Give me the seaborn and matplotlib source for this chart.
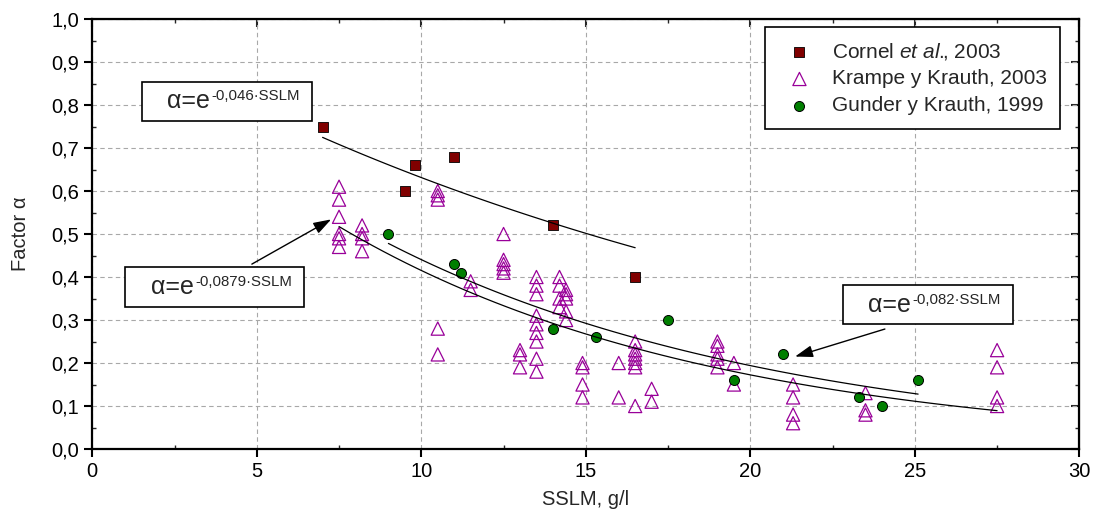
import numpy as np
import matplotlib
matplotlib.use('Agg')
import matplotlib.pyplot as plt
import seaborn as sns
from matplotlib.ticker import MultipleLocator
from matplotlib.offsetbox import TextArea, HPacker, DrawingArea, AnnotationBbox

# Cornel et al., 2003
cornel_x = [7.0, 9.5, 9.8, 11.0, 14.0, 16.5]
cornel_y = [0.75, 0.60, 0.66, 0.68, 0.52, 0.40]

# Krampe y Krauth, 2003
krampe_x = [7.5, 7.5, 7.5, 7.5, 7.5, 7.5,
            8.2, 8.2, 8.2, 8.2,
            10.5, 10.5, 10.5, 10.5, 10.5,
            11.5, 11.5,
            12.5, 12.5, 12.5, 12.5, 12.5,
            13.0, 13.0, 13.0,
            13.5, 13.5, 13.5, 13.5, 13.5, 13.5, 13.5, 13.5, 13.5,
            14.2, 14.2, 14.2, 14.2,
            14.4, 14.4, 14.4, 14.4, 14.4,
            14.9, 14.9, 14.9, 14.9,
            16.0, 16.0,
            16.5, 16.5, 16.5, 16.5, 16.5, 16.5, 16.5,
            17.0, 17.0,
            19.0, 19.0, 19.0, 19.0, 19.0,
            19.5, 19.5,
            21.3, 21.3, 21.3, 21.3,
            23.5, 23.5, 23.5,
            27.5, 27.5, 27.5, 27.5]
krampe_y = [0.61, 0.58, 0.54, 0.50, 0.49, 0.47,
            0.52, 0.50, 0.49, 0.46,
            0.60, 0.59, 0.58, 0.28, 0.22,
            0.39, 0.37,
            0.50, 0.44, 0.43, 0.42, 0.41,
            0.23, 0.22, 0.19,
            0.40, 0.38, 0.36, 0.31, 0.29, 0.27, 0.25, 0.21, 0.18,
            0.40, 0.38, 0.35, 0.33,
            0.37, 0.36, 0.35, 0.32, 0.30,
            0.20, 0.19, 0.15, 0.12,
            0.20, 0.12,
            0.25, 0.23, 0.22, 0.21, 0.20, 0.19, 0.10,
            0.14, 0.11,
            0.25, 0.24, 0.22, 0.21, 0.19,
            0.20, 0.15,
            0.15, 0.12, 0.08, 0.06,
            0.13, 0.09, 0.08,
            0.23, 0.19, 0.12, 0.10]

# Gunder y Krauth, 1999
gunder_x = [9.0, 11.0, 11.2, 14.0, 15.3, 17.5, 19.5, 21.0, 23.3, 24.0, 25.1]
gunder_y = [0.50, 0.43, 0.41, 0.28, 0.26, 0.30, 0.16, 0.22, 0.12, 0.10, 0.16]

# fitted curves alpha = exp(-k * SSLM), as printed on the chart
fit_k = [0.046, 0.0879, 0.082]
fit_from = [7.0, 7.5, 9.0]
fit_to = [16.5, 27.5, 25.1]
fit_text = ['-0,046·SSLM', '-0,0879·SSLM', '-0,082·SSLM']

x_ticks = [0, 5, 10, 15, 20, 25, 30]
y_ticks = [0.0, 0.1, 0.2, 0.3, 0.4, 0.5, 0.6, 0.7, 0.8, 0.9, 1.0]
y_tick_labels = ['0,0', '0,1', '0,2', '0,3', '0,4', '0,5', '0,6', '0,7', '0,8', '0,9', '1,0']

sns.set_style('ticks')
plt.rcParams['font.family'] = ['Liberation Sans', 'DejaVu Sans']
plt.rcParams['mathtext.fontset'] = 'custom'
plt.rcParams['mathtext.rm'] = 'Liberation Sans'
plt.rcParams['mathtext.it'] = 'Liberation Sans:italic'

fig, ax = plt.subplots(figsize=(10.96, 5.18), dpi=100)
fig.subplots_adjust(left=0.0842, right=0.9848, bottom=0.1332, top=0.9633)

sns.scatterplot(x=krampe_x, y=krampe_y, marker='^', s=90, facecolor='none',
                edgecolor='#990099', linewidth=0.9, label='Krampe y Krauth, 2003', ax=ax, zorder=3)
sns.scatterplot(x=cornel_x, y=cornel_y, marker='s', s=48, color='#800000',
                edgecolor='black', linewidth=0.6, label=r'Cornel $\mathit{et\ al.}\!\!$, 2003', ax=ax, zorder=4)
sns.scatterplot(x=gunder_x, y=gunder_y, marker='o', s=52, color='#007f00',
                edgecolor='black', linewidth=0.7, label='Gunder y Krauth, 1999', ax=ax, zorder=4)

for k, a, b in zip(fit_k, fit_from, fit_to):
    xs = np.linspace(a, b, 60)
    sns.lineplot(x=xs, y=np.exp(-k * xs), color='black', linewidth=0.9, ax=ax, zorder=5)

ax.set_xlim(0, 30)
ax.set_ylim(0, 1)
ax.set_xticks(x_ticks)
ax.set_xticklabels([str(t) for t in x_ticks])
ax.set_yticks(y_ticks)
ax.set_yticklabels(y_tick_labels)
ax.xaxis.set_minor_locator(MultipleLocator(2.5))
ax.yaxis.set_minor_locator(MultipleLocator(0.05))
ax.tick_params(which='major', direction='out', length=6, width=1.5, labelsize=14.5, colors='black')
ax.tick_params(which='minor', direction='in', length=3, width=1)
ax.grid(True, which='major', linestyle=(0, (4, 3)), color='#a8a8a8', linewidth=0.8)
for sp in ax.spines.values():
    sp.set_visible(True)
    sp.set_linewidth(1.6)
    sp.set_color('black')

top = ax.secondary_xaxis('top')
top.set_xticks(x_ticks)
top.xaxis.set_minor_locator(MultipleLocator(2.5))
top.tick_params(which='major', direction='in', length=6, width=1.5, labeltop=False)
top.tick_params(which='minor', direction='in', length=3, width=1)
right = ax.secondary_yaxis('right')
right.set_yticks(y_ticks)
right.yaxis.set_minor_locator(MultipleLocator(0.05))
right.tick_params(which='major', direction='in', length=6, width=1.5, labelright=False)
right.tick_params(which='minor', direction='in', length=3, width=1)

ax.set_xlabel('SSLM, g/l', fontsize=14.5, labelpad=6)
ax.set_ylabel('Factor α', fontsize=14.5, labelpad=15)

# equation boxes
box_centers = [(4.09, 0.809), (3.72, 0.377), (25.39, 0.336)]
for txt, xy in zip(fit_text, box_centers):
    base = TextArea('α=e', textprops=dict(fontsize=18))
    sup = TextArea(txt, textprops=dict(fontsize=10.8))
    pack = HPacker(children=[DrawingArea(12, 1), base, sup, DrawingArea(2, 1)],
                   align='top', pad=0, sep=1)
    ab = AnnotationBbox(pack, xy, xycoords='data', frameon=True, pad=0.55,
                        bboxprops=dict(edgecolor='black', linewidth=1.2, facecolor='white'),
                        zorder=6)
    ax.add_artist(ab)

arrow = dict(arrowstyle='-|>,head_length=0.9,head_width=0.3', color='black',
             linewidth=1.0, mutation_scale=12, shrinkA=0, shrinkB=0)
ax.annotate('', xy=(7.26, 0.534), xytext=(4.85, 0.430), arrowprops=arrow, zorder=6)
ax.annotate('', xy=(21.36, 0.215), xytext=(24.09, 0.279), arrowprops=arrow, zorder=6)

handles, labels = ax.get_legend_handles_labels()
order = [1, 0, 2]
leg = ax.legend([handles[i] for i in order], [labels[i] for i in order],
                loc='upper left', bbox_to_anchor=(0.6816, 0.981), borderaxespad=0,
                frameon=True, fancybox=False, edgecolor='black', framealpha=1,
                fontsize=15, handletextpad=0.55, borderpad=0.65, labelspacing=0.37)
leg.get_frame().set_linewidth(1.2)

plt.savefig('out.png', dpi=100)
